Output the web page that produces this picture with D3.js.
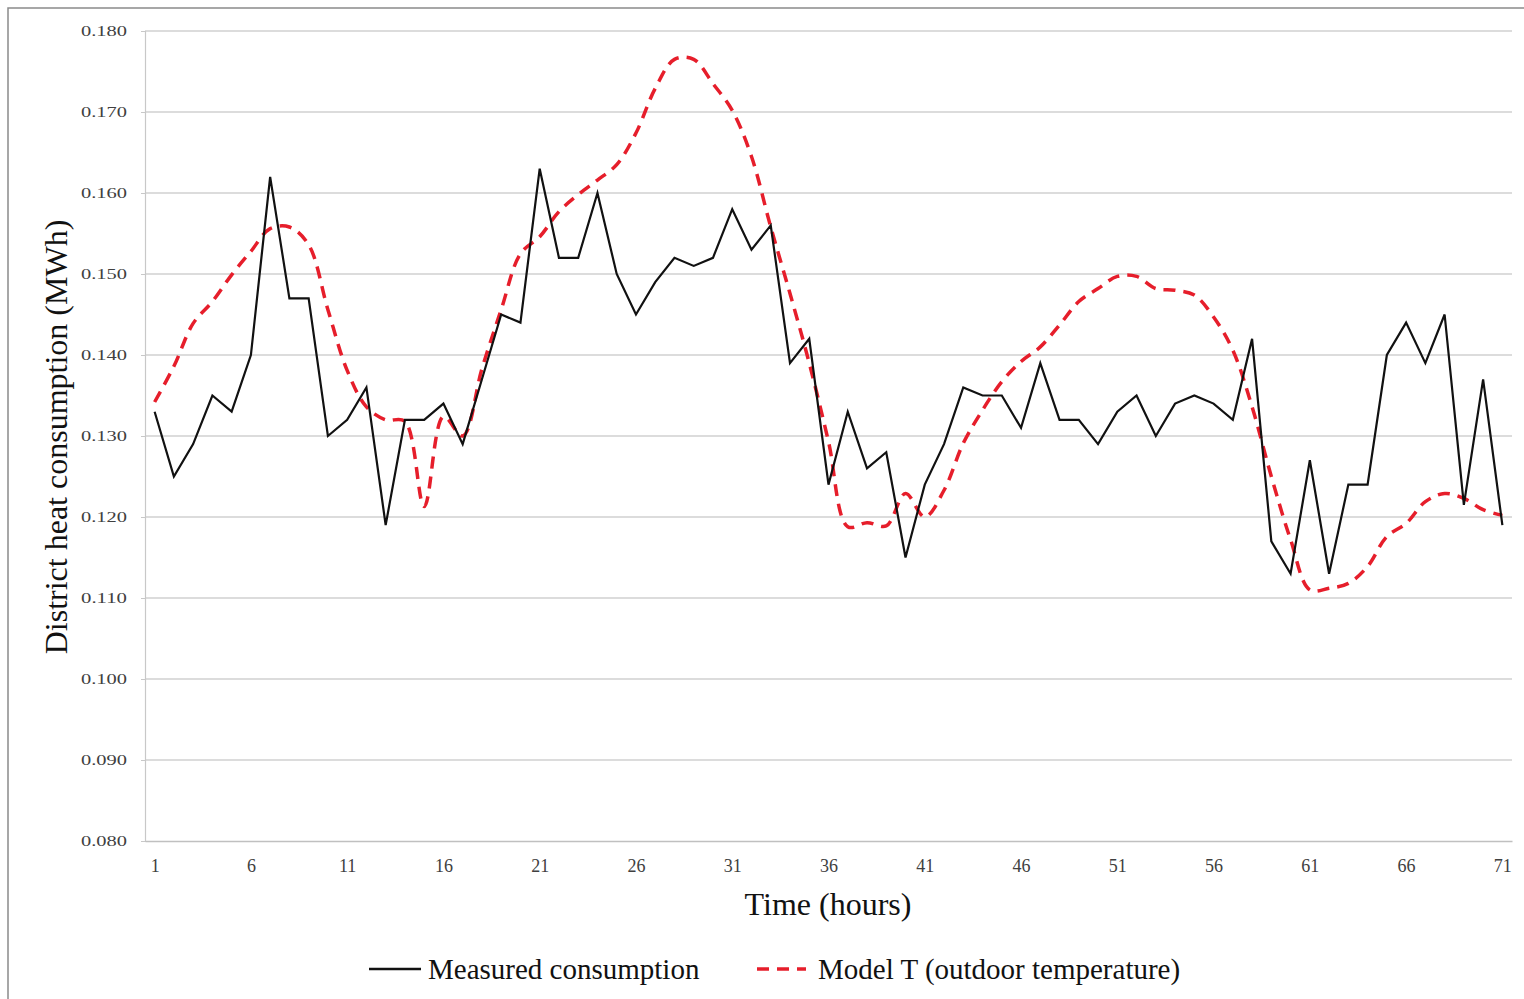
<!DOCTYPE html>
<html><head><meta charset="utf-8">
<script src="https://cdn.jsdelivr.net/npm/d3@7"></script>
<style>body{margin:0;background:#fff}svg{display:block}</style>
</head><body>
<svg id="c" width="1524" height="999"></svg>
<script>
const hours = d3.range(1, 72);
const xTickLabels = [1,6,11,16,21,26,31,36,41,46,51,56,61,66,71];
const yTicks = [0.080,0.090,0.100,0.110,0.120,0.130,0.140,0.150,0.160,0.170,0.180];
const measured = [0.133,0.125,0.129,0.135,0.133,0.140,0.162,0.147,0.147,0.130,
 0.132,0.136,0.119,0.132,0.132,0.134,0.129,0.137,0.145,0.144,
 0.163,0.152,0.152,0.160,0.150,0.145,0.149,0.152,0.151,0.152,
 0.158,0.153,0.156,0.139,0.142,0.124,0.133,0.126,0.128,0.115,
 0.124,0.129,0.136,0.135,0.135,0.131,0.139,0.132,0.132,0.129,
 0.133,0.135,0.130,0.134,0.135,0.134,0.132,0.142,0.117,0.113,
 0.127,0.113,0.124,0.124,0.140,0.144,0.139,0.145,0.1215,0.137,0.119];
const modelT = [0.1342,0.1386,0.1439,0.1466,0.1499,0.1528,0.1556,0.1558,0.1536,0.1456,
 0.1381,0.1336,0.1320,0.1318,0.1213,0.1324,0.1300,0.1383,0.1456,0.1525,
 0.1546,0.1577,0.1598,0.1616,0.1635,0.1674,0.1729,0.1765,0.1765,0.1735,
 0.1702,0.1645,0.1558,0.1476,0.1390,0.1293,0.1188,0.1193,0.1189,0.1229,
 0.1200,0.1233,0.1291,0.1332,0.1367,0.1392,0.1410,0.1437,0.1466,0.1482,
 0.1497,0.1497,0.1482,0.1480,0.1474,0.1447,0.1406,0.1336,0.1250,0.1172,
 0.1110,0.1112,0.1118,0.1139,0.1176,0.1192,0.1219,0.1229,0.1223,0.1209,0.1202];

const svg = d3.select("#c");
const font = "'Liberation Serif','Times New Roman',serif";
const L = 145, R = 1512, T = 31, B = 841;
const x = d3.scaleLinear().domain([0.5, 71.5]).range([L, R]);
const y = d3.scaleLinear().domain([0.08, 0.18]).range([B, T]);

// frame
svg.append("path").attr("d", `M8,999 L8,8 L1524,8`).attr("fill","none").attr("stroke","#8a8a8a").attr("stroke-width",1.5);

// gridlines
svg.append("g").selectAll("line").data(yTicks.slice(1)).join("line")
  .attr("x1", L).attr("x2", R).attr("y1", d=>y(d)).attr("y2", d=>y(d))
  .attr("stroke", "#d0d0d0").attr("stroke-width", 1.5);

// y axis
const yAxis = svg.append("g").attr("transform", `translate(${L},0)`)
  .call(d3.axisLeft(y).tickValues(yTicks).tickFormat(d3.format(".3f")).tickSize(4).tickPadding(14));
yAxis.select(".domain").attr("stroke", "#c8c8c8").attr("stroke-width", 1.2);
yAxis.selectAll(".tick line").attr("stroke", "#c8c8c8");
yAxis.selectAll("text").attr("font-family", font).attr("font-size", 15).attr("fill", "#404040")
  .attr("textLength", 46).attr("lengthAdjust", "spacingAndGlyphs");

// x axis
const xAxis = svg.append("g").attr("transform", `translate(0,${B})`)
  .call(d3.axisBottom(x).tickValues(xTickLabels).tickFormat(d3.format("d")).tickSize(0).tickPadding(18));
xAxis.select(".domain").attr("stroke", "#c0c0c0").attr("stroke-width", 1.5);
xAxis.selectAll("text").attr("font-family", font).attr("font-size", 18).attr("fill", "#404040");

// lines
const lineM = d3.line().x((d,i)=>x(hours[i])).y(d=>y(d));
const lineT = d3.line().x((d,i)=>x(hours[i])).y(d=>y(d)).curve(d3.curveCatmullRom.alpha(0.5));
svg.append("path").datum(modelT).attr("d", lineT).attr("fill","none")
  .attr("stroke","#e61e2b").attr("stroke-width",3.5).attr("stroke-dasharray","12,8");
svg.append("path").datum(measured).attr("d", lineM).attr("fill","none")
  .attr("stroke","#111").attr("stroke-width",2.2).attr("stroke-linejoin","miter");

// axis titles
svg.append("text").attr("x", 828).attr("y", 915).attr("text-anchor","middle")
  .attr("font-family", font).attr("font-size", 32).attr("fill","#111").text("Time (hours)");
svg.append("text").attr("transform", "translate(67,437) rotate(-90)").attr("text-anchor","middle")
  .attr("font-family", font).attr("font-size", 32).attr("fill","#111").text("District heat consumption (MWh)");

// legend
svg.append("line").attr("x1",369).attr("x2",421).attr("y1",969).attr("y2",969).attr("stroke","#111").attr("stroke-width",2.5);
svg.append("text").attr("x",428).attr("y",979).attr("font-family",font).attr("font-size",29).attr("fill","#111").text("Measured consumption");
svg.append("line").attr("x1",757).attr("x2",806).attr("y1",969).attr("y2",969).attr("stroke","#e61e2b").attr("stroke-width",3.5).attr("stroke-dasharray","12,8");
svg.append("text").attr("x",818).attr("y",979).attr("font-family",font).attr("font-size",29).attr("fill","#111").text("Model T (outdoor temperature)");
</script>
</body></html>
